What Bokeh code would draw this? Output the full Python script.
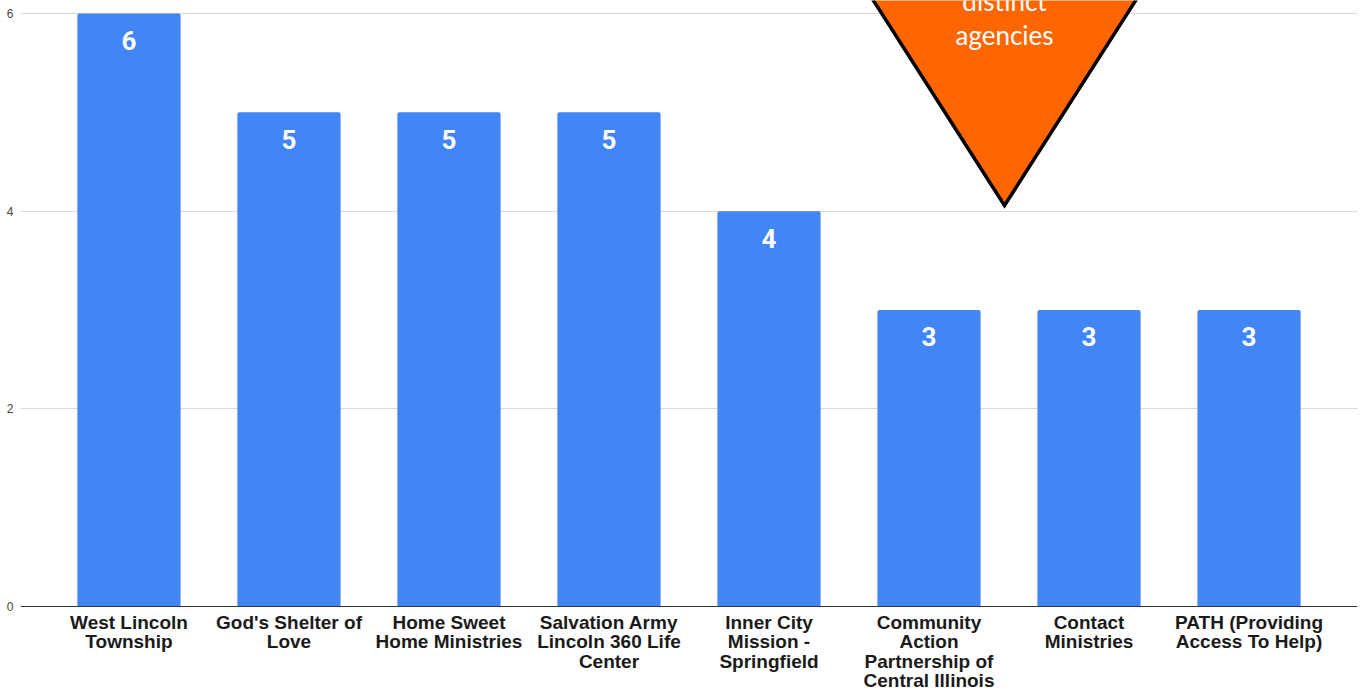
from bokeh.plotting import figure
from bokeh.models import ColumnDataSource, Range1d, FixedTicker, Span
from bokeh.core.properties import value
from bokeh.embed import file_html
from bokeh.resources import INLINE

categories = [
    "West Lincoln Township",
    "God's Shelter of Love",
    "Home Sweet Home Ministries",
    "Salvation Army Lincoln 360 Life Center",
    "Inner City Mission - Springfield",
    "Community Action Partnership of Central Illinois",
    "Contact Ministries",
    "PATH (Providing Access To Help)",
]
counts = [6, 5, 5, 5, 4, 3, 3, 3]
wrapped_labels = [
    "West Lincoln\nTownship",
    "God's Shelter of\nLove",
    "Home Sweet\nHome Ministries",
    "Salvation Army\nLincoln 360 Life\nCenter",
    "Inner City\nMission -\nSpringfield",
    "Community\nAction\nPartnership of\nCentral Illinois",
    "Contact\nMinistries",
    "PATH (Providing\nAccess To Help)",
]
y_ticks = [0, 2, 4, 6]
callout_lines = ["distinct", "agencies"]

xs = list(range(len(categories)))
src = ColumnDataSource(dict(x=xs, top=counts, zero=[0] * len(xs),
                            label=[str(c) for c in counts],
                            cat=wrapped_labels, name=categories))

p = figure(
    width=1363, height=691,
    x_range=Range1d(-0.678, 7.678),
    y_range=Range1d(-0.860, 6.1315),
    output_backend="svg", toolbar_location=None,
    min_border_left=20, min_border_right=6, min_border_top=0, min_border_bottom=0,
)
p.outline_line_color = None
p.background_fill_color = "white"
p.border_fill_color = "white"

p.vbar(x="x", top="top", bottom=0, width=0.645, source=src,
       fill_color="#4285F4", line_color=None, border_radius=(2, 2, 0, 0))

# baseline at zero
p.add_layout(Span(location=0, dimension="width", line_color="#333333", line_width=1))

p.text(x="x", y="top", text="label", source=src,
       y_offset=27, text_align="center", text_baseline="middle",
       text_color="white", text_font=value("Roboto"), text_font_style="bold",
       text_font_size="26px")

# category labels under the baseline
p.text(x="x", y="zero", text="cat", source=src,
       y_offset=5, text_align="center", text_baseline="top",
       text_color="#1a1a1a", text_font=value("Liberation Sans"), text_font_style="bold",
       text_font_size="19px", text_line_height=0.93)

# Callout triangle (annotation)
apex_x, apex_y = 5.472, 4.057
slope = 0.395
top_y = 7.5
p.patch(x=[apex_x, apex_x - slope * (top_y - apex_y), apex_x + slope * (top_y - apex_y)],
        y=[apex_y, top_y, top_y],
        fill_color="#FF6600", line_color="black", line_width=3.5, line_join="miter")
p.text(x=[apex_x, apex_x], y=[6.1315, 5.778], text=callout_lines, text_align="center",
       text_baseline="middle", text_color="white", text_font=value("Lato"),
       text_font_size="26px")

# Axes
p.xaxis.visible = False

p.yaxis.ticker = FixedTicker(ticks=y_ticks)
p.yaxis.axis_line_color = None
p.yaxis.major_tick_line_color = None
p.yaxis.minor_tick_line_color = None
p.yaxis.major_tick_out = 0
p.yaxis.major_tick_in = 0
p.yaxis.major_label_text_font = "Liberation Sans"
p.yaxis.major_label_text_font_size = "12px"
p.yaxis.major_label_text_color = "#444444"
p.yaxis.major_label_standoff = 7

p.xgrid.grid_line_color = None
p.ygrid.ticker = FixedTicker(ticks=[t for t in y_ticks if t > 0])
p.ygrid.grid_line_color = "#d9d9d9"
p.ygrid.grid_line_width = 1

open("out.html", "w").write(file_html(p, INLINE))
